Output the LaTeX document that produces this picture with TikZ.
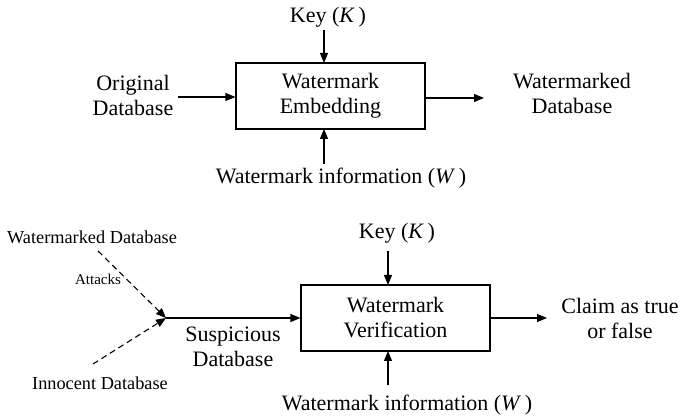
\documentclass[tikz,border=0pt]{standalone}
\usepackage{fontspec}
\setmainfont{Liberation Serif}
\usetikzlibrary{arrows.meta}
\begin{document}
\begin{tikzpicture}[x=1pt,y=-1pt,
  blk/.style={draw,line width=1.1pt,minimum width=189pt,minimum height=66pt,font=\fontsize{22}{25}\selectfont,align=center,inner sep=0pt},
  lbl/.style={font=\fontsize{22}{25}\selectfont,align=center,inner sep=0pt},
  sml/.style={font=\fontsize{18.3}{21}\selectfont,inner sep=0pt},
  tiny/.style={font=\fontsize{15}{17}\selectfont,inner sep=0pt},
  arr/.style={line width=1.1pt,-{Triangle[length=10pt,width=8pt]}},
  darr/.style={line width=1.1pt,dash pattern=on 6pt off 4pt,-{Triangle[length=10pt,width=8pt]}}]
\useasboundingbox (0,0) rectangle (681,419);
% top
\node[blk] (emb) at (330.5,96) {Watermark\\Embedding};
\node[lbl] (key1) at (328,17) {Key (\textit{K}\,)};
\node[lbl] (orig) at (133,95.5) {Original\\Database};
\node[lbl] (wmd) at (572,93.5) {Watermarked\\Database};
\node[lbl] (wi1) at (341,178) {Watermark information (\textit{W}\,)};
\coordinate (k1s) at (324,30);
\coordinate (k1e) at (324,63);
\coordinate (o1) at (178,97);
\coordinate (r1) at (484,98);
\coordinate (w1s) at (324,164);
\coordinate (w1e) at (324,129);
\draw[arr] (k1s) -- (k1e);
\draw[arr] (o1) -- (emb.west |- o1);
\draw[arr] (emb.east |- r1) -- (r1);
\draw[arr] (w1s) -- (w1e);
% bottom
\node[blk] (ver) at (395.5,318) {Watermark\\Verification};
\node[lbl] (key2) at (397,233) {Key (\textit{K}\,)};
\node[lbl] (wi2) at (407,405) {Watermark information (\textit{W}\,)};
\node[lbl] (claim) at (620,318) {Claim as true\\or false};
\node[lbl] (susp) at (233,347) {Suspicious\\Database};
\node[sml] (wmd2) at (92,237) {Watermarked Database};
\node[sml] (inn) at (100,383) {Innocent Database};
\coordinate (m) at (166,318);
\coordinate (a1) at (98,251);
\coordinate (a2) at (93,364);
\coordinate (k2s) at (388,251);
\coordinate (k2e) at (388,285);
\coordinate (w2s) at (388,385);
\coordinate (w2e) at (388,351);
\coordinate (r2) at (547,318);
\draw[darr] (a1) -- (m);
\node[tiny] (att) at (98,279) {Attacks};
\draw[darr] (a2) -- (m);
\draw[arr] (m) -- (ver.west);
\draw[arr] (k2s) -- (k2e);
\draw[arr] (w2s) -- (w2e);
\draw[arr] (ver.east) -- (r2);
\end{tikzpicture}
\end{document}
